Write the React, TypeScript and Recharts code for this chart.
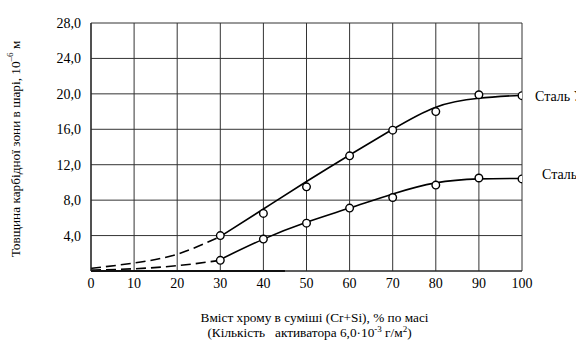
import React from 'react';
import { ComposedChart, Line, Scatter, XAxis, YAxis, CartesianGrid, ReferenceDot, ReferenceLine } from 'recharts';

// Measured marker points (Cr content %, thickness 10^-6 m)
const markX = [30, 40, 50, 60, 70, 80, 90, 100];
const steelU8Marks = [4.0, 6.5, 9.5, 13.0, 15.9, 18.0, 19.9, 19.8];
const steel45Marks = [1.2, 3.6, 5.4, 7.1, 8.3, 9.7, 10.5, 10.4];

// Fitted solid curves
const solidX = [30, 40, 50, 60, 70, 80, 90, 100];
const steelU8Curve = [3.9, 7.0, 10.1, 13.1, 16.0, 18.5, 19.5, 19.85];
const steel45Curve = [1.3, 3.6, 5.5, 7.1, 8.7, 9.95, 10.4, 10.45];

// Dashed extrapolation curves
const dashX = [0, 10, 20, 30];
const dashU = [0.3, 0.9, 1.9, 3.9];
const dashL = [0.1, 0.25, 0.6, 1.2];

const xTicks = [0, 10, 20, 30, 40, 50, 60, 70, 80, 90, 100];
const yTicks = [0, 4, 8, 12, 16, 20, 24, 28];
const seriesNames = ['Сталь У8', 'Сталь 45'];

const zip = (xs: number[], ys: number[]) => xs.map((x, i) => ({ x, y: ys[i] }));

const FONT = 'Liberation Serif';

const Marker = (props: any) => {
  const { cx, cy } = props;
  if (cx == null || cy == null) return null;
  return <circle cx={cx} cy={cy} r={3.8} fill="#fff" stroke="#000" strokeWidth={1.4} />;
};

const YLabel = (props: any) => {
  const vb = props.viewBox || {};
  const cy = (vb.y || 0) + (vb.height || 0) / 2 + 2;
  const x = 15;
  return (
    <text x={x} y={cy} transform={`rotate(-90 ${x} ${cy})`} textAnchor="middle" dominantBaseline="central" fontFamily={FONT} fontSize={13.3} fill="#000">
      Товщина карбідної зони в шарі, 10<tspan fontSize={9} dy={-5}>–6</tspan><tspan dy={5}> м</tspan>
    </text>
  );
};

const XLabel = () => {
  const cx = 306.5;
  return (
    <g>
      <text x={cx + 8} y={322} textAnchor="middle" fontFamily={FONT} fontSize={13.3} fill="#000">Вміст хрому в суміші (Cr+Si), % по масі</text>
      <text x={cx + 3} y={337} textAnchor="middle" fontFamily={FONT} fontSize={13.3} fill="#000">
        (Кількість{'\u00a0\u00a0\u00a0'}активатора 6,0·10<tspan fontSize={9} dy={-5}>-3</tspan><tspan dy={5}> г/м</tspan><tspan fontSize={9} dy={-5}>2</tspan><tspan dy={5}>)</tspan>
      </text>
    </g>
  );
};

const tickProps = { fill: '#000', fontFamily: FONT, fontSize: 14 };

export default function App() {
  return (
    <div style={{ position: 'absolute', left: 0, top: 0, background: '#fff' }}>
      <ComposedChart width={576} height={343} margin={{ top: 23, right: 54, bottom: 0, left: 0 }}>
        <CartesianGrid stroke="#333" strokeWidth={1} horizontal vertical />
        <XAxis
          type="number"
          dataKey="x"
          domain={[0, 100]}
          ticks={xTicks}
          height={72}
          tickLine={false}
          axisLine={{ stroke: '#222', strokeWidth: 1.2 }}
          tick={tickProps}
          tickMargin={1}
          interval={0}
          label={<XLabel />}
          allowDataOverflow
        />
        <YAxis
          type="number"
          domain={[0, 28]}
          ticks={yTicks}
          width={91}
          tickLine={false}
          axisLine={{ stroke: '#222', strokeWidth: 1.2 }}
          tick={tickProps}
          tickMargin={4}
          tickFormatter={(v: number) => (v === 0 ? '' : v.toFixed(1).replace('.', ','))}
          interval={0}
          label={<YLabel />}
          allowDataOverflow
        />
        <ReferenceLine segment={[{ x: 0, y: 0 }, { x: 45, y: 0 }]} stroke="#000" strokeWidth={2} />
        <Line data={zip(dashX, dashU)} dataKey="y" type="natural" stroke="#000" strokeWidth={1.6} strokeDasharray="10 5" dot={false} isAnimationActive={false} />
        <Line data={zip(dashX, dashL)} dataKey="y" type="natural" stroke="#000" strokeWidth={1.6} strokeDasharray="10 5" dot={false} isAnimationActive={false} />
        <Line data={zip(solidX, steelU8Curve)} dataKey="y" type="natural" stroke="#000" strokeWidth={1.6} dot={false} isAnimationActive={false} />
        <Line data={zip(solidX, steel45Curve)} dataKey="y" type="natural" stroke="#000" strokeWidth={1.6} dot={false} isAnimationActive={false} />
        <Scatter data={zip(markX, steelU8Marks)} dataKey="y" shape={<Marker />} isAnimationActive={false} />
        <Scatter data={zip(markX, steel45Marks)} dataKey="y" shape={<Marker />} isAnimationActive={false} />
        <ReferenceDot x={100} y={19.8} r={0} stroke="none" label={{ value: seriesNames[0], position: 'right', offset: 13, fill: '#000', fontFamily: FONT, fontSize: 14 }} />
        <ReferenceDot x={100} y={10.9} r={0} stroke="none" label={{ value: seriesNames[1], position: 'right', offset: 20, fill: '#000', fontFamily: FONT, fontSize: 14 }} />
      </ComposedChart>
    </div>
  );
}
